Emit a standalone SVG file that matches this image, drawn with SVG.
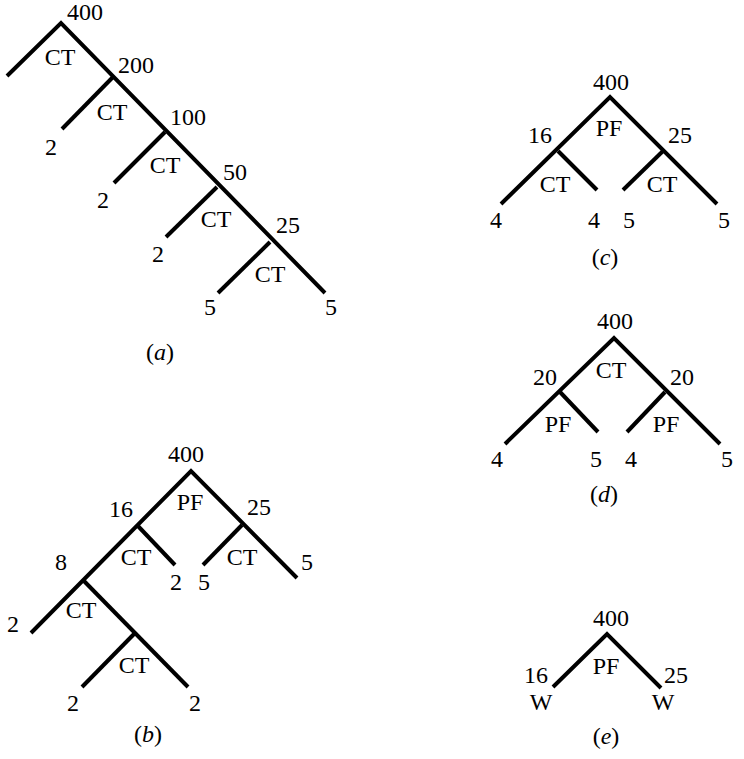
<svg xmlns="http://www.w3.org/2000/svg" width="744" height="759" viewBox="0 0 744 759">
<style>
text{font-family:"Liberation Serif","Times New Roman",serif;font-size:24px;fill:#000;text-anchor:middle}
.e{stroke:#000;stroke-width:4;fill:none;stroke-linecap:butt;stroke-linejoin:miter}
.i{font-style:italic}
</style>
<rect width="744" height="759" fill="#fff"/>
<!-- (a) -->
<g id="tree-a">
<g id="a-edges" class="e">
<polyline points="7,76 61,23 325,293"/>
<line x1="113" y1="77" x2="62" y2="129"/>
<line x1="165" y1="132" x2="114" y2="183"/>
<line x1="217" y1="187" x2="166" y2="237"/>
<line x1="270" y1="242" x2="218" y2="293"/>
</g>
<g id="a-n400"><text x="85" y="20">400</text><text x="60" y="65">CT</text></g>
<g id="a-n200"><text x="136" y="73">200</text><text x="112" y="120">CT</text></g>
<g id="a-n2a"><text x="51" y="155">2</text></g>
<g id="a-n100"><text x="188" y="125">100</text><text x="165" y="173">CT</text></g>
<g id="a-n2b"><text x="103" y="208">2</text></g>
<g id="a-n50"><text x="235" y="180">50</text><text x="216" y="227">CT</text></g>
<g id="a-n2c"><text x="158" y="262">2</text></g>
<g id="a-n25"><text x="288" y="233">25</text><text x="270" y="282">CT</text></g>
<g id="a-n5a"><text x="210" y="315">5</text></g>
<g id="a-n5b"><text x="331" y="315">5</text></g>
<text x="160" y="360">(<tspan class="i">a</tspan>)</text>
</g>
<!-- (b) -->
<g id="tree-b">
<g id="b-edges" class="e">
<polyline points="31,633 191,471 297,578"/>
<line x1="137" y1="525" x2="175" y2="565"/>
<line x1="242" y1="525" x2="203" y2="565"/>
<line x1="83" y1="580" x2="188" y2="687"/>
<line x1="135" y1="633" x2="82" y2="687"/>
</g>
<g id="b-n400"><text x="186" y="462">400</text><text x="190" y="510">PF</text></g>
<g id="b-n16"><text x="121" y="517">16</text><text x="136" y="565">CT</text></g>
<g id="b-n25"><text x="259" y="515">25</text><text x="242" y="565">CT</text></g>
<g id="b-n8"><text x="61" y="570">8</text><text x="81" y="618">CT</text></g>
<g id="b-n2a"><text x="176" y="590">2</text></g>
<g id="b-n5a"><text x="204" y="590">5</text></g>
<g id="b-n5b"><text x="307" y="570">5</text></g>
<g id="b-n2b"><text x="13" y="632">2</text></g>
<g id="b-n4"><text x="134" y="673">CT</text></g>
<g id="b-n2c"><text x="73" y="711">2</text></g>
<g id="b-n2d"><text x="195" y="711">2</text></g>
<text x="148" y="742">(<tspan class="i">b</tspan>)</text>
</g>
<!-- (c) -->
<g id="tree-c">
<g id="c-edges" class="e">
<polyline points="501,204 610,97 717,204"/>
<line x1="558" y1="151" x2="597" y2="190"/>
<line x1="663" y1="151" x2="623" y2="190"/>
</g>
<g id="c-n400"><text x="611" y="90">400</text><text x="609" y="136">PF</text></g>
<g id="c-n16"><text x="540" y="143">16</text><text x="555" y="192">CT</text></g>
<g id="c-n25"><text x="680" y="143">25</text><text x="662" y="192">CT</text></g>
<g id="c-n4a"><text x="496" y="228">4</text></g>
<g id="c-n4b"><text x="594" y="228">4</text></g>
<g id="c-n5a"><text x="629" y="228">5</text></g>
<g id="c-n5b"><text x="724" y="228">5</text></g>
<text x="605" y="265">(<tspan class="i">c</tspan>)</text>
</g>
<!-- (d) -->
<g id="tree-d">
<g id="d-edges" class="e">
<polyline points="505,444 614,338 720,444"/>
<line x1="560" y1="392" x2="598" y2="432"/>
<line x1="665" y1="392" x2="627" y2="432"/>
</g>
<g id="d-n400"><text x="615" y="329">400</text><text x="611" y="378">CT</text></g>
<g id="d-n20a"><text x="545" y="385">20</text><text x="558" y="432">PF</text></g>
<g id="d-n20b"><text x="682" y="385">20</text><text x="666" y="432">PF</text></g>
<g id="d-n4a"><text x="497" y="467">4</text></g>
<g id="d-n5a"><text x="596" y="467">5</text></g>
<g id="d-n4b"><text x="631" y="467">4</text></g>
<g id="d-n5b"><text x="727" y="467">5</text></g>
<text x="604" y="502">(<tspan class="i">d</tspan>)</text>
</g>
<!-- (e) -->
<g id="tree-e">
<g id="e-edges" class="e">
<polyline points="553,687 607,634 661,688"/>
</g>
<g id="e-n400"><text x="611" y="626">400</text><text x="606" y="674">PF</text></g>
<g id="e-n16"><text x="536" y="683">16</text><text x="541" y="710">W</text></g>
<g id="e-n25"><text x="676" y="683">25</text><text x="663" y="710">W</text></g>
<text x="606" y="744">(<tspan class="i">e</tspan>)</text>
</g>
</svg>
